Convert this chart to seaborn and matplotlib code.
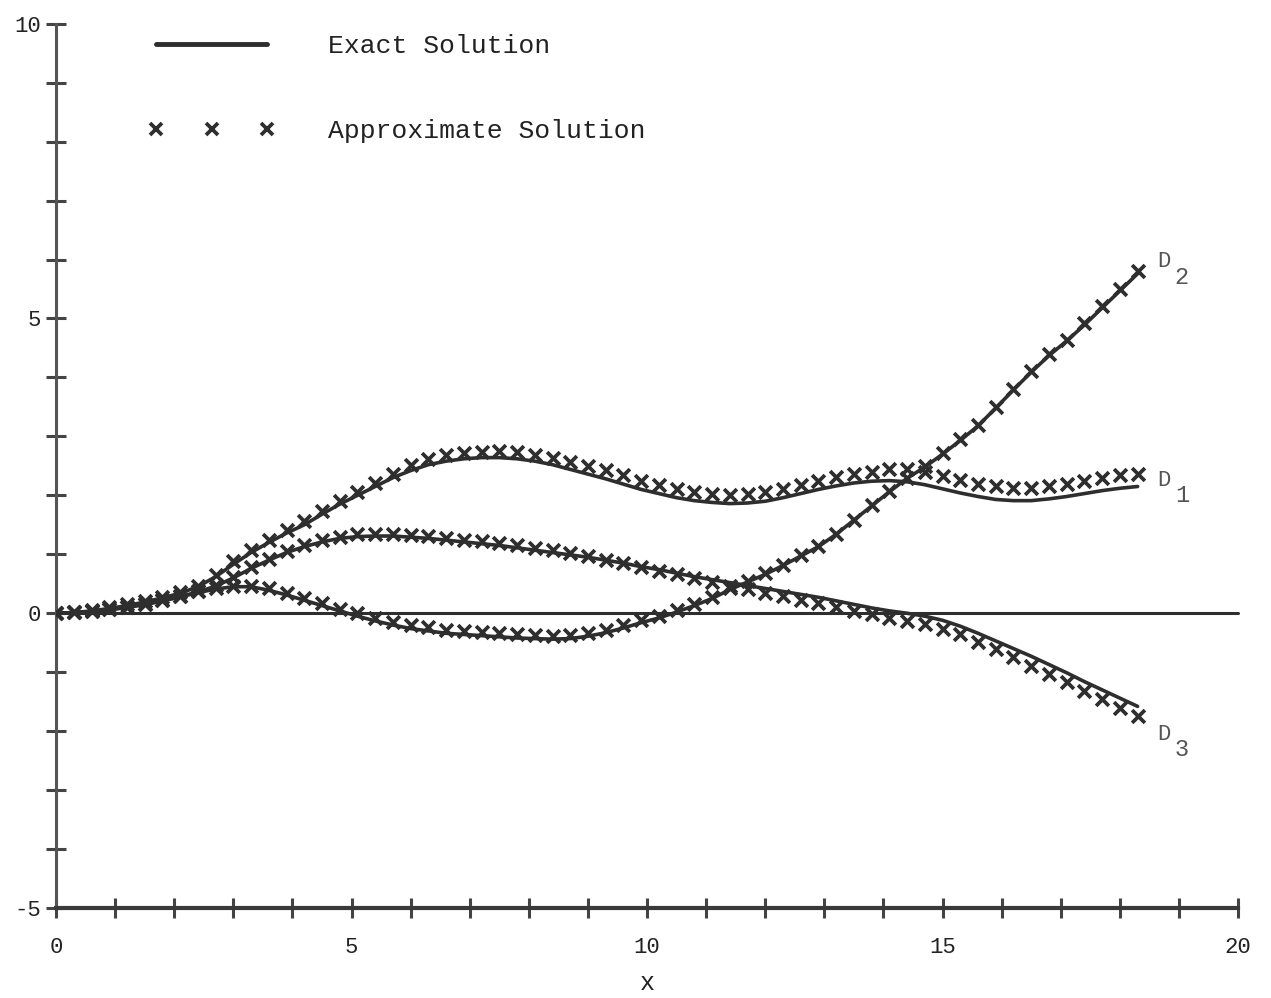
import matplotlib
matplotlib.use("Agg")
import matplotlib.pyplot as plt
import seaborn as sns
from matplotlib.lines import Line2D
from matplotlib.ticker import MultipleLocator, FixedLocator

# ---------------- data ----------------
x_pts = [0.0, 0.3, 0.6, 0.9, 1.2, 1.5, 1.8, 2.1, 2.4, 2.7, 3.0,
         3.3, 3.6, 3.9, 4.2, 4.5, 4.8, 5.1, 5.4, 5.7, 6.0,
         6.3, 6.6, 6.9, 7.2, 7.5, 7.8, 8.1, 8.4, 8.7, 9.0,
         9.3, 9.6, 9.9, 10.2, 10.5, 10.8, 11.1, 11.4, 11.7, 12.0,
         12.3, 12.6, 12.9, 13.2, 13.5, 13.8, 14.1, 14.4, 14.7, 15.0,
         15.3, 15.6, 15.9, 16.2, 16.5, 16.8, 17.1, 17.4, 17.7, 18.0, 18.3]

d1_exact = [0.00, 0.01, 0.04, 0.08, 0.13, 0.19, 0.26, 0.34, 0.45, 0.62, 0.83,
            1.03, 1.20, 1.36, 1.50, 1.68, 1.85, 2.00, 2.15, 2.30, 2.42,
            2.52, 2.58, 2.62, 2.64, 2.64, 2.62, 2.58, 2.52, 2.44, 2.36,
            2.28, 2.19, 2.10, 2.03, 1.96, 1.91, 1.88, 1.86, 1.87, 1.90,
            1.96, 2.03, 2.10, 2.16, 2.21, 2.24, 2.25, 2.23, 2.18, 2.11,
            2.04, 1.98, 1.93, 1.91, 1.91, 1.94, 1.98, 2.03, 2.08, 2.12, 2.15]
d1_approx = [0.00, 0.02, 0.05, 0.10, 0.15, 0.21, 0.28, 0.36, 0.47, 0.65, 0.88,
             1.08, 1.25, 1.41, 1.56, 1.73, 1.90, 2.06, 2.21, 2.37, 2.51,
             2.62, 2.68, 2.72, 2.74, 2.75, 2.73, 2.69, 2.63, 2.56, 2.50,
             2.43, 2.34, 2.25, 2.18, 2.11, 2.06, 2.03, 2.01, 2.02, 2.05,
             2.11, 2.18, 2.25, 2.31, 2.36, 2.39, 2.45, 2.44, 2.39, 2.32,
             2.26, 2.20, 2.15, 2.13, 2.13, 2.16, 2.20, 2.25, 2.30, 2.34, 2.37]

d2_exact = [0.00, 0.01, 0.03, 0.06, 0.10, 0.15, 0.21, 0.28, 0.35, 0.41, 0.45,
            0.45, 0.39, 0.31, 0.22, 0.13, 0.04, -0.05, -0.13, -0.20, -0.26,
            -0.30, -0.34, -0.36, -0.38, -0.40, -0.42, -0.43, -0.44, -0.43, -0.39,
            -0.33, -0.25, -0.16, -0.08, 0.02, 0.13, 0.25, 0.40, 0.53, 0.66,
            0.81, 0.97, 1.13, 1.34, 1.58, 1.82, 2.06, 2.29, 2.48, 2.70,
            2.93, 3.18, 3.48, 3.79, 4.09, 4.37, 4.62, 4.89, 5.18, 5.47, 5.76]
d2_approx = [0.00, 0.02, 0.04, 0.07, 0.11, 0.16, 0.22, 0.29, 0.37, 0.43, 0.47,
             0.47, 0.42, 0.34, 0.26, 0.17, 0.08, 0.00, -0.08, -0.15, -0.20,
             -0.24, -0.28, -0.30, -0.32, -0.34, -0.36, -0.37, -0.38, -0.37, -0.34,
             -0.28, -0.20, -0.12, -0.04, 0.05, 0.16, 0.28, 0.42, 0.55, 0.68,
             0.82, 0.98, 1.14, 1.35, 1.59, 1.83, 2.07, 2.30, 2.50, 2.72,
             2.95, 3.20, 3.50, 3.81, 4.11, 4.39, 4.64, 4.92, 5.21, 5.50, 5.80]

d3_exact = [0.00, 0.01, 0.03, 0.06, 0.10, 0.15, 0.21, 0.28, 0.36, 0.46, 0.60,
            0.76, 0.90, 1.03, 1.13, 1.21, 1.27, 1.30, 1.31, 1.31, 1.29,
            1.27, 1.24, 1.21, 1.18, 1.15, 1.11, 1.07, 1.03, 0.99, 0.95,
            0.90, 0.85, 0.79, 0.74, 0.68, 0.62, 0.57, 0.52, 0.47, 0.42,
            0.37, 0.32, 0.27, 0.21, 0.15, 0.09, 0.04, 0.00, -0.05, -0.12,
            -0.22, -0.34, -0.47, -0.60, -0.73, -0.87, -1.01, -1.16, -1.30, -1.44, -1.58]
d3_approx = [0.00, 0.02, 0.04, 0.07, 0.11, 0.16, 0.22, 0.29, 0.37, 0.48, 0.62,
             0.78, 0.92, 1.05, 1.16, 1.24, 1.30, 1.34, 1.35, 1.35, 1.33,
             1.31, 1.28, 1.25, 1.22, 1.19, 1.15, 1.11, 1.07, 1.02, 0.97,
             0.91, 0.85, 0.78, 0.72, 0.66, 0.59, 0.53, 0.47, 0.41, 0.35,
             0.29, 0.23, 0.17, 0.10, 0.04, -0.02, -0.08, -0.13, -0.19, -0.26,
             -0.36, -0.48, -0.61, -0.75, -0.89, -1.03, -1.17, -1.32, -1.46, -1.60, -1.74]

zero_x = [0, 20]
zero_y = [0, 0]

curve_names = ["D1", "D2", "D3"]
label_main = ["D", "D", "D"]
label_sub = ["1", "2", "3"]
label_x_main = [18.63, 18.63, 18.63]
label_x_sub = [18.93, 18.93, 18.93]
label_y_main = [2.26, 5.96, -2.05]
label_y_sub = [2.00, 5.70, -2.31]

x_tick_labels = ["0", "5", "10", "15", "20"]
y_tick_labels = ["-5", "0", "5", "10"]
legend_labels = ["Exact Solution", "Approximate Solution"]
x_label = "x"

# ---------------- style ----------------
sns.set_theme(style="white")
MONO = ["Liberation Mono", "DejaVu Sans Mono"]
plt.rcParams["font.family"] = MONO
INK = "#2e2e2e"

fig = plt.figure(figsize=(12.71, 9.98), dpi=100)
ax = fig.add_axes([0.0441, 0.0902, 0.930, 0.886])

# zero line
sns.lineplot(x=zero_x, y=zero_y, ax=ax, color=INK, linewidth=2.2,
             estimator=None, sort=False, clip_on=False)

exacts = [d1_exact, d2_exact, d3_exact]
approxs = [d1_approx, d2_approx, d3_approx]
for ex, ap in zip(exacts, approxs):
    sns.lineplot(x=x_pts, y=ex, ax=ax, color=INK, linewidth=2.6,
                 estimator=None, sort=False)
    sns.scatterplot(x=x_pts, y=ap, ax=ax, color=INK, marker="x",
                    s=85, linewidth=2.7, zorder=3)

# curve labels
for m, s, xm, xs, ym, ys in zip(label_main, label_sub, label_x_main,
                                label_x_sub, label_y_main, label_y_sub):
    ax.text(xm, ym, m, fontsize=16, color="#555555", ha="left", va="center")
    ax.text(xs, ys, s, fontsize=17, color="#555555", ha="left", va="center")

# axes
ax.set_xlim(0, 20)
ax.set_ylim(-5, 10)
ax.xaxis.set_major_locator(FixedLocator([0, 5, 10, 15, 20]))
ax.yaxis.set_major_locator(FixedLocator([-5, 0, 5, 10]))
ax.xaxis.set_minor_locator(MultipleLocator(1))
ax.yaxis.set_minor_locator(MultipleLocator(1))
ax.set_xticklabels(x_tick_labels)
ax.set_yticklabels(y_tick_labels)
ax.tick_params(axis="both", which="both", direction="inout", length=14,
               width=2.2, color="#444444", labelsize=16, labelcolor="#222222")
ax.tick_params(axis="x", which="both", bottom=True, pad=14)
ax.tick_params(axis="y", which="both", left=True, pad=4)
for side in ["top", "right"]:
    ax.spines[side].set_visible(False)
ax.spines["left"].set_color("#555555")
ax.spines["left"].set_linewidth(2.2)
ax.spines["bottom"].set_color("#3a3a3a")
ax.spines["bottom"].set_linewidth(3.0)
ax.grid(False)
ax.set_xlabel(x_label, fontsize=18, labelpad=9, color="#222222")
ax.set_ylabel("")

# legend
handles = [Line2D([], [], color=INK, linewidth=3.5),
           Line2D([], [], color=INK, linestyle="", marker="x",
                  markersize=9, markeredgewidth=2.7)]
leg = ax.legend(handles, legend_labels, loc="upper left",
                bbox_to_anchor=(0.078, 0.988), frameon=False, numpoints=3,
                fontsize=19, handlelength=4.8, handletextpad=2.0,
                labelspacing=2.3, borderpad=0, borderaxespad=0)
for t in leg.get_texts():
    t.set_color("#222222")

fig.savefig("out.png", dpi=100)
